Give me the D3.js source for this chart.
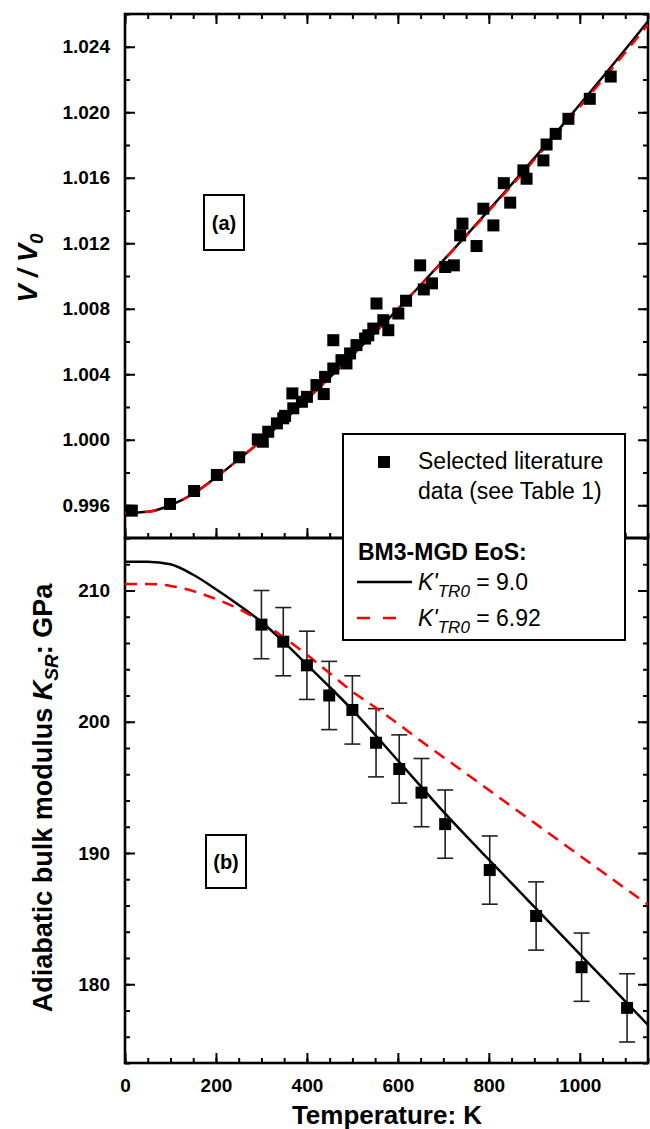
<!DOCTYPE html>
<html><head><meta charset="utf-8">
<script src="https://cdn.jsdelivr.net/npm/d3@7"></script>
<style>
body{margin:0;background:#fff;}
svg{display:block;font-family:"Liberation Sans",Arial,sans-serif;}
</style></head>
<body><svg id="c" width="650" height="1129"></svg>
<script>
// ---------- data ----------
const curveT = [0,50,100,150,200,250,300,350,400,450,500,550,600,650,700,750,800,850,900,950,1000,1050,1100,1150];
const volBlack = [0.99553,0.99560,0.99600,0.99670,0.99770,0.99880,0.99995,1.00120,1.00248,1.00380,1.00515,1.00655,1.00798,1.00945,1.01095,1.01247,1.01402,1.01560,1.01720,1.01882,1.02047,1.02214,1.02383,1.02555];
const volRed   = [0.99553,0.99560,0.99600,0.99670,0.99770,0.99880,0.99995,1.00120,1.00248,1.00380,1.00515,1.00655,1.00798,1.00945,1.01094,1.01244,1.01397,1.01552,1.01710,1.01870,1.02033,1.02198,1.02365,1.02535];
const volDataT = [15,99,152,202,251,292,303,315,334,348,352,368,370,389,400,421,437,440,458,458,476,487,495,509,528,535,546,553,568,579,601,618,649,657,675,704,723,737,742,773,788,810,833,847,876,883,920,927,947,975,1022,1068];
const volDataV = [0.99567,0.99608,0.99687,0.99785,0.99893,1.00002,0.99988,1.00049,1.00100,1.00131,1.00146,1.00283,1.00192,1.00232,1.00262,1.00334,1.00279,1.00384,1.00435,1.00608,1.00486,1.00466,1.00527,1.00578,1.00618,1.00638,1.00679,1.00832,1.00730,1.00669,1.00771,1.00849,1.01065,1.00918,1.00955,1.01055,1.01065,1.01248,1.01320,1.01183,1.01411,1.01309,1.01567,1.01448,1.01645,1.01594,1.01706,1.01803,1.01868,1.01960,1.02082,1.02218];
const ksBlack = [212.2,212.2,212.0,211.2,210.1,208.9,207.6,206.05,204.35,202.65,200.9,199.0,197.05,195.1,193.15,191.3,189.5,187.7,185.9,184.1,182.3,180.5,178.7,176.9];
const ksRed   = [210.5,210.5,210.35,209.95,209.35,208.6,207.6,206.4,205.1,203.7,202.3,201.1,199.85,198.55,197.3,196.05,194.8,193.55,192.3,191.05,189.8,188.55,187.3,186.05];
const ksDataT = [300,348,400,449,500,552,603,652,704,802,904,1004,1104];
const ksDataK = [207.4,206.1,204.3,202.0,200.9,198.4,196.4,194.6,192.2,188.7,185.2,181.3,178.2];
const ksErr   = [2.6,2.6,2.6,2.6,2.6,2.6,2.6,2.6,2.6,2.6,2.6,2.6,2.6];
const xTicks = [0,200,400,600,800,1000];
const volTicks = [0.996,1.000,1.004,1.008,1.012,1.016,1.020,1.024];
const ksTicks = [180,190,200,210];

// ---------- layout ----------
const L = 125, R = 648, T1 = 14, B1 = 538, B2 = 1063;
const svg = d3.select("#c");
const x = d3.scaleLinear().domain([0,1150]).range([L,R]);
const yV = d3.scaleLinear().domain([0.994,1.026]).range([B1,T1]);
const yK = d3.scaleLinear().domain([174,214]).range([B2,B1]);
const RED = "#ff0000";

const defs = svg.append("defs");
defs.append("clipPath").attr("id","cp1").append("rect").attr("x",L).attr("y",T1).attr("width",R-L).attr("height",B1-T1);
defs.append("clipPath").attr("id","cp2").append("rect").attr("x",L).attr("y",B1).attr("width",R-L).attr("height",B2-B1);

const xMinor = d3.range(0,1151,50);
const vMinor = d3.range(0,17).map(i=>+(0.994+i*0.002).toFixed(3));
const kMinor = d3.range(174,215,2);

function styleAxis(g){
  g.select(".domain").remove();
  g.selectAll(".tick line").attr("stroke","#000").attr("stroke-width",2);
  g.selectAll(".tick text").attr("font-size",19).attr("font-weight","bold").attr("fill","#000").attr("font-family","Liberation Sans, Arial, sans-serif");
}
function addAxis(axisFn, scale, pos, vals, size, fmt, pad){
  const a = axisFn(scale).tickValues(vals).tickSizeInner(-size).tickSizeOuter(0).tickPadding(pad||0);
  a.tickFormat(fmt ? fmt : () => "");
  const g = svg.append("g");
  if(axisFn===d3.axisLeft||axisFn===d3.axisRight) g.attr("transform",`translate(${pos},0)`);
  else g.attr("transform",`translate(0,${pos})`);
  g.call(a); styleAxis(g); return g;
}
// top panel axes
addAxis(d3.axisLeft, yV, L, vMinor, 5, null);
addAxis(d3.axisLeft, yV, L, volTicks, 10, d3.format(".3f"), 15);
addAxis(d3.axisRight, yV, R, vMinor, 5, null);
addAxis(d3.axisRight, yV, R, volTicks, 10, null);
addAxis(d3.axisTop, x, T1, xMinor, 5, null);
addAxis(d3.axisTop, x, T1, xTicks, 10, null);
addAxis(d3.axisBottom, x, B1, xMinor, 5, null);
addAxis(d3.axisBottom, x, B1, xTicks, 10, null);
// bottom panel axes
addAxis(d3.axisLeft, yK, L, kMinor, 5, null);
addAxis(d3.axisLeft, yK, L, ksTicks, 10, d3.format("d"), 15);
addAxis(d3.axisRight, yK, R, kMinor, 5, null);
addAxis(d3.axisRight, yK, R, ksTicks, 10, null);
addAxis(d3.axisBottom, x, B2, xMinor, 5, null);
addAxis(d3.axisBottom, x, B2, xTicks, 10, d3.format("d"), 16);

// frames
svg.append("rect").attr("x",L).attr("y",T1).attr("width",R-L).attr("height",B1-T1).attr("fill","none").attr("stroke","#000").attr("stroke-width",2.6);
svg.append("rect").attr("x",L).attr("y",B1).attr("width",R-L).attr("height",B2-B1).attr("fill","none").attr("stroke","#000").attr("stroke-width",2.6);

// top panel curves
const p1 = svg.append("g").attr("clip-path","url(#cp1)");
const lineV = arr => d3.line().x((d,i)=>x(curveT[i])).y(d=>yV(d)).curve(d3.curveMonotoneX)(arr);
p1.append("path").attr("d",lineV(volBlack)).attr("fill","none").attr("stroke","#000").attr("stroke-width",2.5);
p1.append("path").attr("d",lineV(volRed)).attr("fill","none").attr("stroke",RED).attr("stroke-width",2.5).attr("stroke-dasharray","12,8");
const SQ = 12;
p1.selectAll("rect.pt").data(volDataT).join("rect").attr("class","pt")
  .attr("x",(d)=>x(d)-SQ/2).attr("y",(d,i)=>yV(volDataV[i])-SQ/2).attr("width",SQ).attr("height",SQ).attr("fill","#000");

// bottom panel
const p2 = svg.append("g").attr("clip-path","url(#cp2)");
const lineK = arr => d3.line().x((d,i)=>x(curveT[i])).y(d=>yK(d)).curve(d3.curveMonotoneX)(arr);
const eb = p2.selectAll("g.eb").data(ksDataT).join("g").attr("class","eb");
eb.append("line").attr("x1",d=>x(d)).attr("x2",d=>x(d)).attr("y1",(d,i)=>yK(ksDataK[i]+ksErr[i])).attr("y2",(d,i)=>yK(ksDataK[i]-ksErr[i])).attr("stroke","#222").attr("stroke-width",1.6);
eb.append("line").attr("x1",d=>x(d)-8).attr("x2",d=>x(d)+8).attr("y1",(d,i)=>yK(ksDataK[i]+ksErr[i])).attr("y2",(d,i)=>yK(ksDataK[i]+ksErr[i])).attr("stroke","#222").attr("stroke-width",1.6);
eb.append("line").attr("x1",d=>x(d)-8).attr("x2",d=>x(d)+8).attr("y1",(d,i)=>yK(ksDataK[i]-ksErr[i])).attr("y2",(d,i)=>yK(ksDataK[i]-ksErr[i])).attr("stroke","#222").attr("stroke-width",1.6);
p2.append("path").attr("d",lineK(ksBlack)).attr("fill","none").attr("stroke","#000").attr("stroke-width",2.5);
p2.append("path").attr("d",lineK(ksRed)).attr("fill","none").attr("stroke",RED).attr("stroke-width",2.5).attr("stroke-dasharray","12,8");
p2.selectAll("rect.pt").data(ksDataT).join("rect").attr("class","pt")
  .attr("x",d=>x(d)-SQ/2).attr("y",(d,i)=>yK(ksDataK[i])-SQ/2).attr("width",SQ).attr("height",SQ).attr("fill","#000");

// panel labels
function panelLabel(x0,y0,w,h,txt){
  svg.append("rect").attr("x",x0).attr("y",y0).attr("width",w).attr("height",h).attr("fill","#fff").attr("stroke","#000").attr("stroke-width",2);
  svg.append("text").attr("x",x0+w/2).attr("y",y0+h/2+7).attr("text-anchor","middle").attr("font-size",20).attr("font-weight","bold").text(txt);
}
panelLabel(204,195,40,55,"(a)");
panelLabel(206,835,40,53,"(b)");

// axis titles
svg.append("text").attr("x",387).attr("y",1124).attr("text-anchor","middle").attr("font-size",26).attr("font-weight","bold").text("Temperature: K");
const t1 = svg.append("text").attr("transform","translate(37,268) rotate(-90)").attr("text-anchor","middle").attr("font-size",27).attr("font-weight","bold").attr("font-style","italic");
t1.append("tspan").text("V / V");
t1.append("tspan").attr("font-size",19).attr("dy",6).text("0");
const t2 = svg.append("text").attr("transform","translate(52,798) rotate(-90)").attr("text-anchor","middle").attr("font-size",27).attr("font-weight","bold");
t2.append("tspan").text("Adiabatic bulk modulus ");
t2.append("tspan").attr("font-style","italic").text("K");
t2.append("tspan").attr("font-style","italic").attr("font-size",19).attr("dy",6).text("SR");
t2.append("tspan").attr("dy",-6).text(": GPa");

// legend
const lg = svg.append("g");
lg.append("rect").attr("x",343).attr("y",434).attr("width",282).attr("height",206).attr("fill","#fff").attr("stroke","#000").attr("stroke-width",2);
lg.append("rect").attr("x",384-SQ/2).attr("y",462-SQ/2).attr("width",SQ).attr("height",SQ).attr("fill","#000");
lg.append("text").attr("x",418).attr("y",469).attr("font-size",23).text("Selected literature");
lg.append("text").attr("x",418).attr("y",499).attr("font-size",23).text("data (see Table 1)");
lg.append("text").attr("x",358).attr("y",560).attr("font-size",23).attr("font-weight","bold").text("BM3-MGD EoS:");
lg.append("line").attr("x1",357).attr("x2",412).attr("y1",582).attr("y2",582).attr("stroke","#000").attr("stroke-width",2.5);
lg.append("line").attr("x1",357).attr("x2",400).attr("y1",618).attr("y2",618).attr("stroke",RED).attr("stroke-width",2.5).attr("stroke-dasharray","13,13");
function kLabel(y0,val){
  const t = lg.append("text").attr("x",418).attr("y",y0).attr("font-size",23);
  t.append("tspan").attr("font-style","italic").text("K'");
  t.append("tspan").attr("font-style","italic").attr("font-size",17).attr("dy",7).text("TR0");
  t.append("tspan").attr("dy",-7).text(" = "+val);
}
kLabel(590,"9.0");
kLabel(626,"6.92");
</script></body></html>
